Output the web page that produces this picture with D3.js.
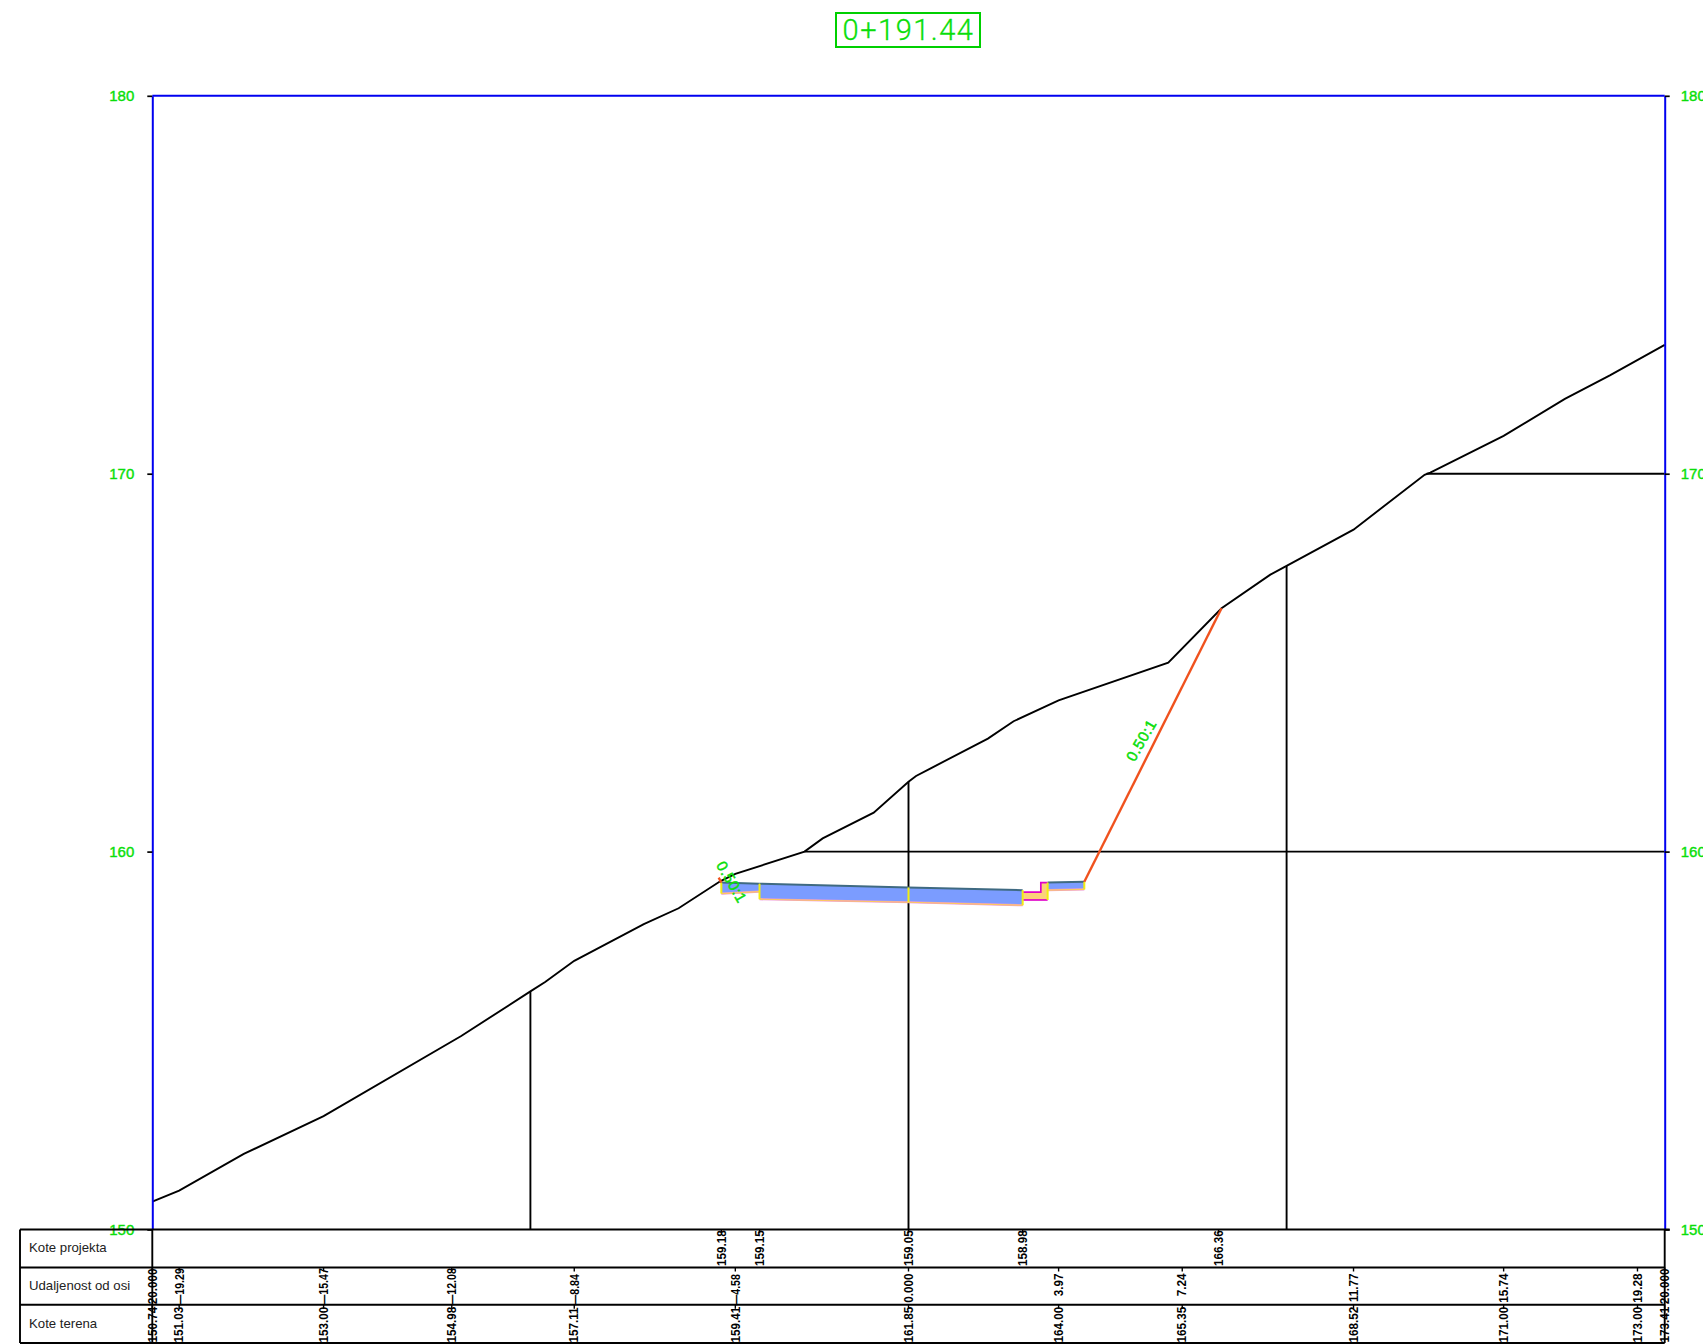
<!DOCTYPE html>
<html>
<head>
<meta charset="utf-8">
<script src="https://cdn.jsdelivr.net/npm/d3@7"></script>
<style>
  html, body { margin: 0; padding: 0; background: #fff; overflow: hidden; }
  text { font-family: "Liberation Sans", Arial, sans-serif; }
</style>
</head>
<body>
<div id="chart"></div>
<script>
// station
const stationLabel = "0+191.44";

// terrain profile (offset from axis, elevation)
const terrainOffset = [-20, -19.29, -17.58, -15.47, -11.83, -10, -9.61, -8.84, -7, -6.08, -4.97, -4.58, -2.75, -2.27, -0.92, 0, 0.2, 0.6, 2.1, 2.78, 3.97, 6.87, 8.28, 9.57, 10, 11.77, 13.65, 13.8, 15.74, 17.36, 18.55, 20];
const terrainLevel = [150.74, 151.03, 152, 153, 155.12, 156.3, 156.55, 157.11, 158.08, 158.5, 159.22, 159.41, 160, 160.35, 161.03, 161.85, 162, 162.21, 162.99, 163.45, 164, 165, 166.44, 167.33, 167.56, 168.52, 169.97, 170.03, 171, 171.98, 172.6, 173.41];

// grid lines, they stop at the terrain
const levelTicks = [150, 160, 170, 180];
const gridLevels = [[160, -2.75], [170, 13.7]];
const gridOffsets = [[-10, 156.3], [0, 161.85], [10, 167.56]];

// road section
const pavementParts = [
  [[-4.95, 159.18], [-3.94, 159.15], [-3.94, 158.94], [-4.95, 158.89]],
  [[-3.94, 159.15], [0, 159.05], [3.02, 158.98], [3.02, 158.58], [0, 158.66], [-3.94, 158.74]],
  [[3.68, 159.18], [4.65, 159.2], [4.65, 159], [3.68, 158.98]]
];
const ditchFill = [[3.02, 158.93], [3.5, 158.93], [3.5, 159.18], [3.68, 159.18], [3.68, 158.72], [3.02, 158.72]];
const ditchTop = [[3.02, 158.93], [3.5, 158.93], [3.5, 159.18], [3.68, 159.18]];
const ditchBottom = [[3.02, 158.72], [3.68, 158.72]];
const sectionJoints = [[-4.95, 159.18, 158.89], [-3.94, 159.15, 158.74], [0, 159.05, 158.66], [3.02, 158.98, 158.58], [3.68, 159.18, 158.72], [4.65, 159.2, 159]];
const rightSlope = [[4.65, 159.2], [8.28, 166.44]];
const leftSlope = [[-4.95, 159.18], [-5.02, 159.31]];
const slopeLabels = [["0.50:1", -4.67, 159.2, 60], ["0.50:1", 6.15, 162.95, -60]];

// table rows
const rowNames = ["Kote projekta", "Udaljenost od osi", "Kote terena"];
const projectOffset = [-4.95, -3.94, 0, 3.02, 8.2];
const projectLabels = ["159.18", "159.15", "159.05", "158.98", "166.36"];
const distanceOffset = [-20, -19.29, -15.47, -12.08, -8.84, -4.58, 0, 3.97, 7.24, 11.77, 15.74, 19.28, 20];
const distanceLabels = ["20.000", "—19.29", "—15.47", "—12.08", "—8.84", "—4.58", "0.000", "3.97", "7.24", "11.77", "15.74", "19.28", "20.000"];
const terrainLabels = ["150.74", "151.03", "153.00", "154.98", "157.11", "159.41", "161.85", "164.00", "165.35", "168.52", "171.00", "173.00", "173.41"];

const width = 1703;
const height = 1344;
const green = "#0ade0a";
const rowLines = [1229.5, 1267.5, 1304.8, 1343];

const svg = d3.select("#chart")
  .append("svg")
    .attr("width", width)
    .attr("height", height)
    .style("display", "block");

const x = d3.scaleLinear().domain([-20, 20]).range([152.3, 1664.7]);
const y = d3.scaleLinear().domain([150, 180]).range([1229.5, 95.8]);
const line = d3.line().x(d => x(d[0])).y(d => y(d[1]));

// grid
svg.selectAll(".grid-h")
  .data(gridLevels)
  .join("line")
    .attr("x1", d => x(d[1]))
    .attr("x2", x(20))
    .attr("y1", d => y(d[0]))
    .attr("y2", d => y(d[0]))
    .attr("stroke", "#000")
    .attr("stroke-width", 1.9);

svg.selectAll(".grid-v")
  .data(gridOffsets)
  .join("line")
    .attr("x1", d => x(d[0]))
    .attr("x2", d => x(d[0]))
    .attr("y1", y(150))
    .attr("y2", d => y(d[1]))
    .attr("stroke", "#000")
    .attr("stroke-width", 1.9);

// terrain
svg.append("path")
  .attr("d", line(terrainOffset.map((d, i) => [d, terrainLevel[i]])))
  .attr("fill", "none")
  .attr("stroke", "#000")
  .attr("stroke-width", 1.9);

// road section
svg.append("path")
  .attr("d", line(ditchFill) + "Z")
  .attr("fill", "#fcd27a");

svg.selectAll(".pavement")
  .data(pavementParts)
  .join("path")
    .attr("d", d => line(d) + "Z")
    .attr("fill", "#7b9cff");

// bottom edge of the layers, pink under orange
pavementParts.forEach(part => {
  const half = part.length / 2;
  const bottom = part.slice(half);
  const top = part.slice(0, half);
  svg.append("path").attr("d", line(bottom))
    .attr("fill", "none").attr("stroke", "#ee9ad8").attr("stroke-width", 2.2);
  svg.append("path").attr("d", line(bottom))
    .attr("fill", "none").attr("stroke", "#fcc860").attr("stroke-width", 1.2);
  svg.append("path").attr("d", line(top))
    .attr("fill", "none").attr("stroke", "#3f6a82").attr("stroke-width", 2);
});

[ditchTop, ditchBottom].forEach(d => {
  svg.append("path").attr("d", line(d))
    .attr("fill", "none").attr("stroke", "#e000c8").attr("stroke-width", 1.7);
});

svg.selectAll(".joint")
  .data(sectionJoints)
  .join("line")
    .attr("x1", d => x(d[0]))
    .attr("x2", d => x(d[0]))
    .attr("y1", d => y(d[1]))
    .attr("y2", d => y(d[2]))
    .attr("stroke", "#f2ee10")
    .attr("stroke-width", 2);

[rightSlope, leftSlope].forEach(d => {
  svg.append("path").attr("d", line(d))
    .attr("fill", "none").attr("stroke", "#f0521e").attr("stroke-width", 2.4);
});

svg.selectAll(".slope-label")
  .data(slopeLabels)
  .join("text")
    .attr("transform", d => `translate(${x(d[1])},${y(d[2])}) rotate(${d[3]})`)
    .attr("text-anchor", "middle")
    .attr("dominant-baseline", "central")
    .attr("font-size", 15)
    .attr("letter-spacing", 0.6)
    .attr("fill", green)
    .attr("stroke", green)
    .attr("stroke-width", 0.5)
    .text(d => d[0]);

// axes
const axisLeft = svg.append("g")
  .attr("transform", `translate(${x(-20)},0)`)
  .call(d3.axisLeft(y).tickValues(levelTicks).tickFormat(d3.format("d")).tickSize(5).tickPadding(13).tickSizeOuter(0));
const axisRight = svg.append("g")
  .attr("transform", `translate(${x(20)},0)`)
  .call(d3.axisRight(y).tickValues(levelTicks).tickFormat(d3.format("d")).tickSize(5).tickPadding(11).tickSizeOuter(0));

[axisLeft, axisRight].forEach(g => {
  g.select(".domain").attr("stroke", "#0000f0").attr("stroke-width", 2);
  g.selectAll(".tick line").attr("stroke", "#000").attr("stroke-width", 1.7);
  g.selectAll(".tick text")
    .attr("fill", green)
    .attr("stroke", green)
    .attr("stroke-width", 0.4)
    .attr("font-size", 15)
    .attr("font-family", "Liberation Sans");
});

svg.append("line")
  .attr("x1", x(-20))
  .attr("x2", x(20))
  .attr("y1", y(180))
  .attr("y2", y(180))
  .attr("stroke", "#0000f0")
  .attr("stroke-width", 2);

// table
svg.append("line")
  .attr("x1", 20).attr("x2", x(20) + 5)
  .attr("y1", rowLines[0]).attr("y2", rowLines[0])
  .attr("stroke", "#000").attr("stroke-width", 2);

svg.selectAll(".row-line")
  .data(rowLines.slice(1))
  .join("line")
    .attr("x1", 20)
    .attr("x2", x(20))
    .attr("y1", d => d)
    .attr("y2", d => d)
    .attr("stroke", "#000")
    .attr("stroke-width", 1.9);

svg.selectAll(".col-line")
  .data([20, x(-20), x(20)])
  .join("line")
    .attr("x1", d => d)
    .attr("x2", d => d)
    .attr("y1", rowLines[0])
    .attr("y2", rowLines[3])
    .attr("stroke", "#000")
    .attr("stroke-width", 1.9);

svg.selectAll(".row-name")
  .data(rowNames)
  .join("text")
    .attr("x", 29)
    .attr("y", (d, i) => (rowLines[i] + rowLines[i + 1]) / 2 - 0.8)
    .attr("dominant-baseline", "central")
    .attr("font-size", 13.2)
    .attr("fill", "#222")
    .text(d => d);

function columnLabels(offsets, labels, rowIndex, place) {
  const top = rowLines[rowIndex];
  const bottom = rowLines[rowIndex + 1];
  offsets.forEach((d, i) => {
    svg.append("line")
      .attr("x1", x(d)).attr("x2", x(d))
      .attr("y1", top).attr("y2", top + 4)
      .attr("stroke", "#000").attr("stroke-width", 1.4);
    const p = place(labels[i], top, bottom);
    svg.append("text")
      .attr("transform", `translate(${x(d)},${p.y}) rotate(-90) scale(1,${p.stretch || 1.12})`)
      .attr("text-anchor", p.anchor)
      .attr("dominant-baseline", "central")
      .attr("font-size", p.size || 11.7)
      .attr("font-weight", "bold")
      .attr("fill", "#000")
      .text(labels[i]);
  });
}

columnLabels(projectOffset, projectLabels, 0, (s, top, bottom) => ({y: bottom - 1.5, anchor: "start"}));
columnLabels(distanceOffset, distanceLabels, 1, (s, top, bottom) => {
  // the long dash runs down to the next row line
  if (s[0] === "—") return {y: bottom + 0.5, anchor: "start", size: 10.6, stretch: 1.24};
  return {y: top + (s.length > 5 ? 1 : 6), anchor: "end"};
});
columnLabels(distanceOffset, terrainLabels, 2, (s, top, bottom) => ({y: bottom - 0.5, anchor: "start"}));

// station box
svg.append("text")
  .attr("x", x(0))
  .attr("y", 30)
  .attr("text-anchor", "middle")
  .attr("dominant-baseline", "central")
  .attr("font-size", 29)
  .attr("font-weight", 300)
  .attr("letter-spacing", 1.5)
  .attr("fill", green)
  .attr("stroke", green)
  .attr("stroke-width", 0.3)
  .attr("style", "font-family: Roboto")
  .text(stationLabel);

svg.append("rect")
  .attr("x", 836)
  .attr("y", 13)
  .attr("width", 144)
  .attr("height", 34)
  .attr("fill", "none")
  .attr("stroke", "#00d000")
  .attr("stroke-width", 2);
</script>
</body>
</html>
